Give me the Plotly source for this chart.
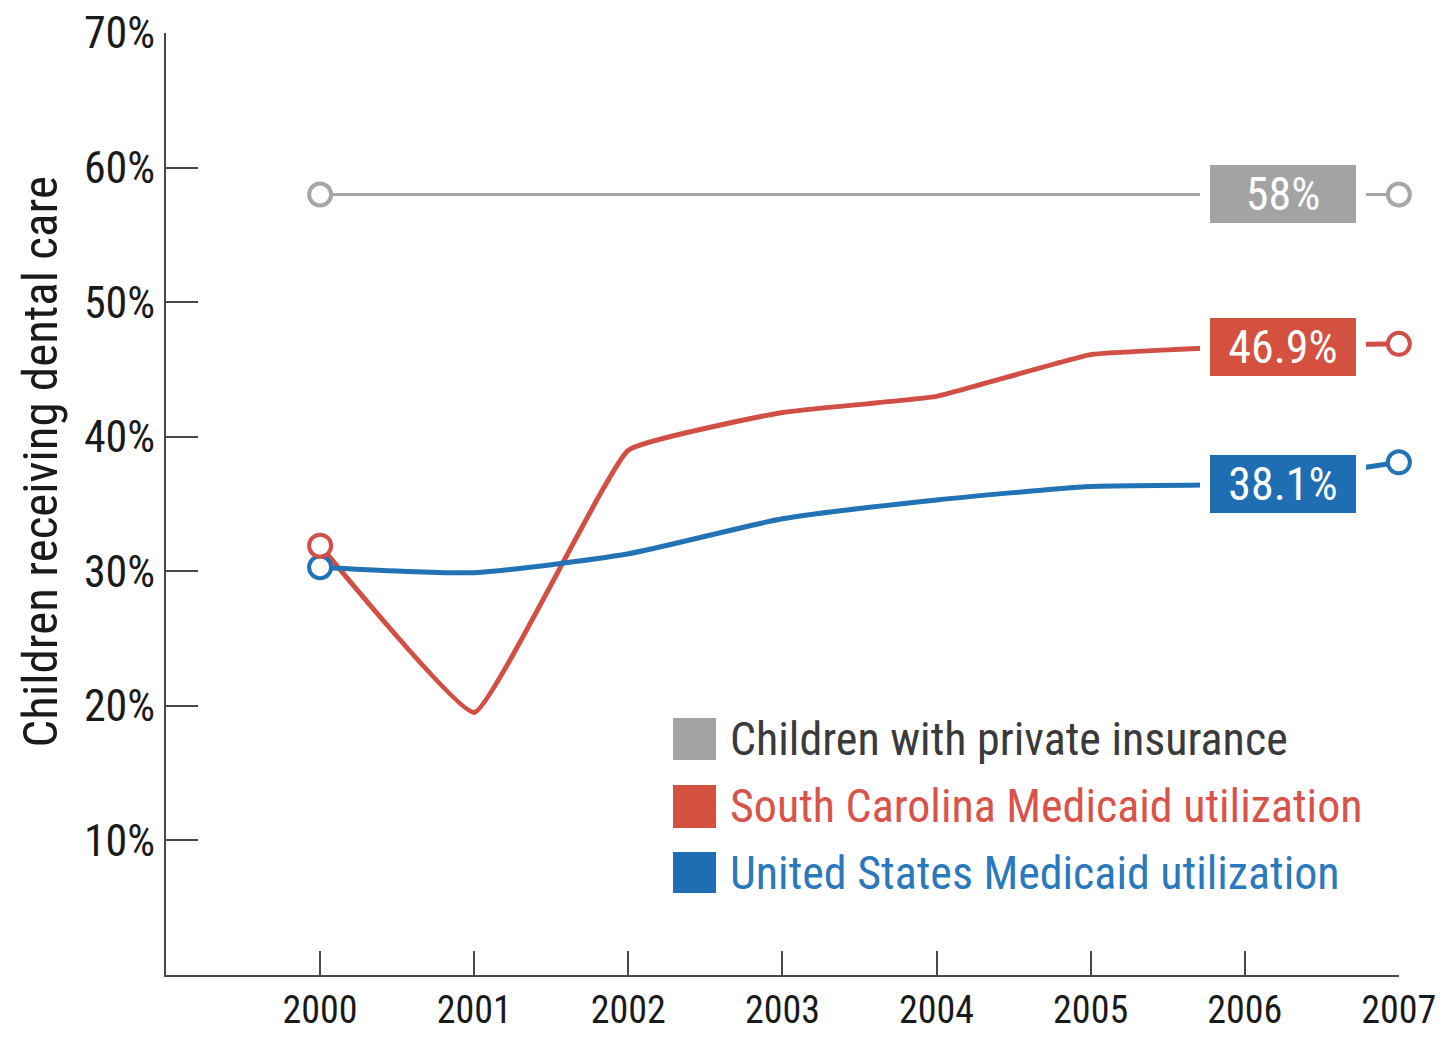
import plotly.graph_objects as go

years = [2000, 2001, 2002, 2003, 2004, 2005, 2006, 2007]
series_names = [
    "Children with private insurance",
    "South Carolina Medicaid utilization",
    "United States Medicaid utilization",
]
private_ins = [58, 58, 58, 58, 58, 58, 58, 58]
sc_medicaid = [31.9, 19.5, 39.0, 41.8, 43.0, 46.1, 46.7, 46.9]
us_medicaid = [30.3, 29.9, 31.3, 33.9, 35.3, 36.3, 36.5, 38.1]
y_ticks = [10, 20, 30, 40, 50, 60, 70]
y_tick_labels = ["10%", "20%", "30%", "40%", "50%", "60%", "70%"]

FONT = "Roboto Condensed, Liberation Sans Narrow, Roboto, Liberation Sans, sans-serif"
line_colors = ["#a6a6a6", "#d24f45", "#2272b6"]
box_colors = ["#a3a3a3", "#d4513f", "#1f6db2"]
text_colors = ["#3a3a3a", "#d9534a", "#2a78bd"]
line_widths = [3, 5, 5]
smoothings = [0, 0.3, 0.6]
values = [private_ins, sc_medicaid, us_medicaid]

fig = go.Figure()

# lines
for name, vals, col, lw, sm in zip(series_names, values, line_colors, line_widths, smoothings):
    fig.add_trace(go.Scatter(
        x=years, y=vals, mode="lines", name=name,
        line=dict(color=col, width=lw, shape="spline" if sm else "linear",
                  smoothing=sm if sm else 1),
        showlegend=False, hoverinfo="skip",
    ))

# end markers (first and last points), blue drawn before red so red sits on top
for idx in [0, 2, 1]:
    vals = values[idx]
    fig.add_trace(go.Scatter(
        x=[years[0], years[-1]], y=[vals[0], vals[-1]], mode="markers",
        marker=dict(symbol="circle", size=22, color="white",
                    line=dict(color=line_colors[idx], width=4)),
        cliponaxis=False, showlegend=False, hoverinfo="skip",
    ))

annotations = []
# value label boxes near the end of each line
for vals, bcol in zip(values, box_colors):
    annotations.append(dict(
        x=2006.25, y=vals[-2], xref="x", yref="y",
        text=f"{vals[-1]:g}%", showarrow=False,
        font=dict(family=FONT, size=46, color="white"),
        bgcolor=bcol, bordercolor="white", borderwidth=10, borderpad=0,
        width=146, height=58, xanchor="center", yanchor="middle",
    ))

# manual legend
swatch_y = [(0.2728, 0.2282), (0.2017, 0.1561), (0.1306, 0.0870)]
shapes = []
for (y1, y0), bcol, tcol, name in zip(swatch_y, box_colors, text_colors, series_names):
    shapes.append(dict(type="rect", xref="paper", yref="paper",
                       x0=0.4112, x1=0.4461, y0=y0, y1=y1,
                       fillcolor=bcol, line=dict(width=0)))
    annotations.append(dict(
        x=0.4558, y=(y0 + y1) / 2, xref="paper", yref="paper",
        text=name, showarrow=False, xanchor="left", yanchor="middle",
        font=dict(family=FONT, size=46, color=tcol),
    ))

# y-axis title
annotations.append(dict(
    x=-0.101, y=0.5446, xref="paper", yref="paper",
    text="Children receiving dental care", showarrow=False, textangle=-90,
    xanchor="center", yanchor="middle",
    font=dict(family=FONT, size=49, color="#1a1a1a"),
))

fig.update_layout(
    width=1444, height=1038,
    margin=dict(l=166, r=45, t=33, b=63),
    paper_bgcolor="white", plot_bgcolor="white",
    showlegend=False,
    annotations=annotations, shapes=shapes,
    font=dict(family=FONT, color="#1a1a1a"),
)
fig.update_xaxes(
    range=[1999, 2007.001], tickvals=years, ticktext=[str(y) for y in years],
    showline=True, linecolor="#4a4a4a", linewidth=2,
    ticks="inside", ticklen=24, tickwidth=2, tickcolor="#4a4a4a",
    showgrid=False, zeroline=False, ticklabeloverflow="allow",
    automargin=False,
    tickfont=dict(family=FONT, size=38, color="#1a1a1a"),
)
fig.update_yaxes(
    range=[0, 70], tickvals=y_ticks, ticktext=y_tick_labels,
    showline=True, linecolor="#4a4a4a", linewidth=2,
    ticks="inside", ticklen=32, tickwidth=2, tickcolor="#4a4a4a",
    showgrid=False, zeroline=False, automargin=False,
    tickfont=dict(family=FONT, size=44, color="#1a1a1a"),
)

fig.write_html("out.html")
